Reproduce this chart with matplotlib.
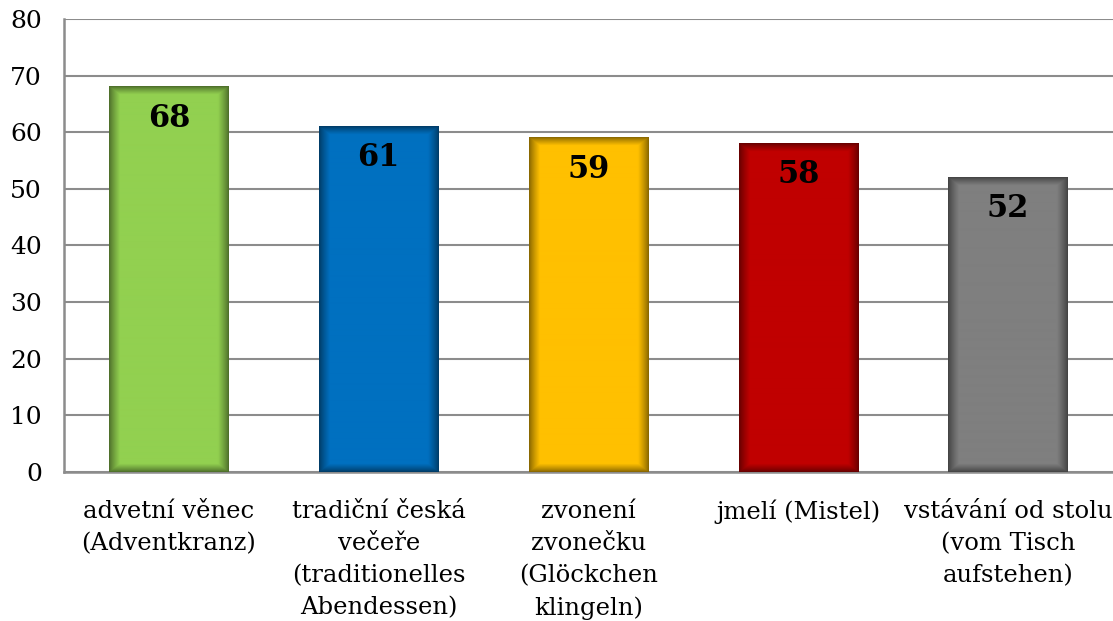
import numpy as np
import matplotlib.pyplot as plt
from matplotlib.colors import to_rgb

# survey data
categories = ["advetní věnec\n(Adventkranz)",
              "tradiční česká\nvečeře\n(traditionelles\nAbendessen)",
              "zvonení\nzvonečku\n(Glöckchen\nklingeln)",
              "jmelí (Mistel)",
              "vstávání od stolu\n(vom Tisch\naufstehen)"]
values = [68, 61, 59, 58, 52]
colors = ["#92D050", "#0070C0", "#FFC000", "#C00000", "#7F7F7F"]

plt.rcParams['font.family'] = ['DejaVu Serif']

fig = plt.figure(figsize=(11.13, 6.21), dpi=100)
ax = fig.add_axes([64 / 1113, 1 - 472 / 621, 1 - 64 / 1113, (472 - 19) / 621])

x = np.arange(len(values))
width = 0.57
bars = ax.bar(x, values, width=width, color=colors, zorder=2)

# darker edges on each bar (shaded look), built in pixel units
px_per_unit = 453 / 80
bar_px = 120
for b, c in zip(bars, colors):
    rgb = np.array(to_rgb(c))
    dark = rgb * 0.5
    h_px = int(b.get_height() * px_per_unit)
    xx = np.arange(bar_px) + 0.5
    yy = np.arange(h_px) + 0.5
    dx = np.minimum(xx, bar_px - xx)
    dy = np.minimum(yy, h_px - yy)
    d = np.minimum(dx[None, :], dy[:, None] * 1.3)
    shade = np.clip(d / 11, 0, 1) ** 0.8
    img = dark[None, None, :] * (1 - shade[..., None]) + rgb[None, None, :] * shade[..., None]
    x0, y0 = b.get_x(), b.get_y()
    ax.imshow(img, extent=[x0, x0 + b.get_width(), y0, y0 + b.get_height()],
              aspect='auto', zorder=3, interpolation='bilinear')

for xi, v in zip(x, values):
    ax.text(xi, v - 5.5, str(v), ha='center', va='center', fontsize=22,
            fontweight='bold', color='black', zorder=5)

ax.set_xlim(-0.5, len(values) - 0.5)
ax.set_ylim(0, 80)
ax.set_yticks(range(0, 81, 10))
ax.yaxis.grid(True, color='#8C8C8C', linewidth=1.5, zorder=0)
ax.set_axisbelow(True)
ax.tick_params(axis='both', length=0, labelsize=18, colors='black')
ax.tick_params(axis='y', pad=16)
ax.tick_params(axis='x', pad=20)
ax.set_xticks(x)
ax.set_xticklabels(categories, fontsize=17.5, linespacing=1.5)
for s in ['top', 'right']:
    ax.spines[s].set_visible(False)
for s in ['left', 'bottom']:
    ax.spines[s].set_color('#8C8C8C')
    ax.spines[s].set_linewidth(1.8)

fig.savefig('out.png', dpi=100)
